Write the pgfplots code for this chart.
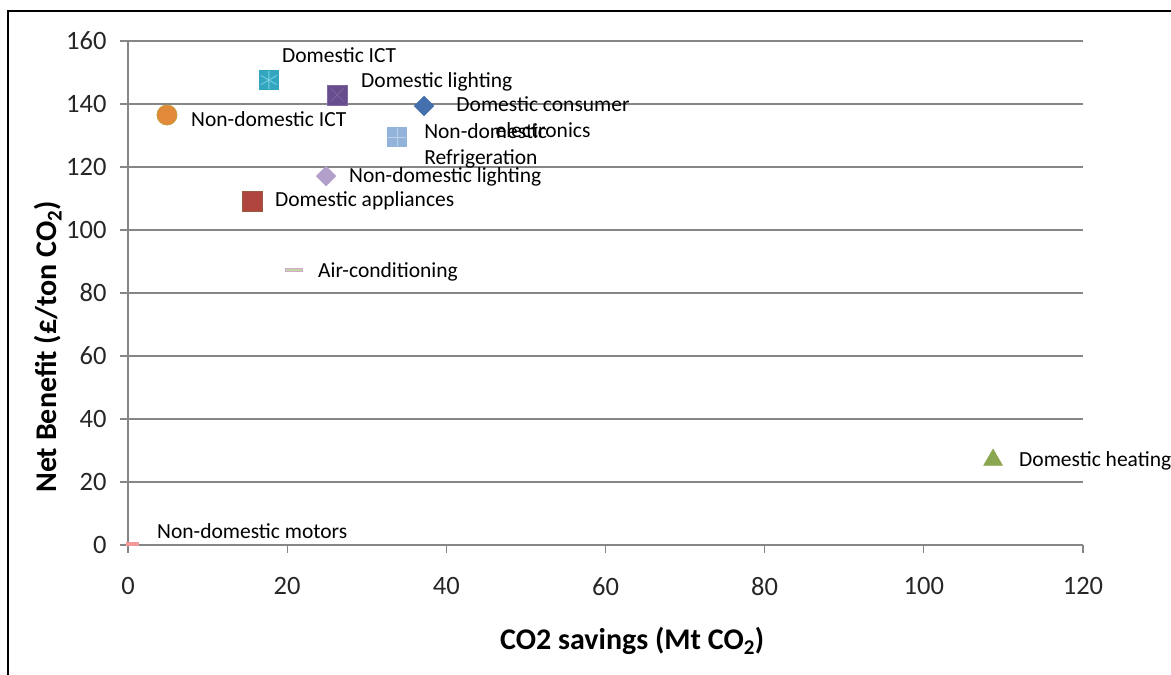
\documentclass[border=0pt]{standalone}
\usepackage{fontspec}
\setmainfont{Carlito}
\usepackage{pgfplots}
\pgfplotsset{compat=1.18}
\definecolor{gridgray}{HTML}{868686}
\definecolor{cTeal}{HTML}{33A6BF}
\definecolor{cTealL}{HTML}{7AD3E3}
\definecolor{cPurple}{HTML}{684D8C}
\definecolor{cPurpleL}{HTML}{8269A5}
\definecolor{cBlue}{HTML}{4470AE}
\definecolor{cOrange}{HTML}{E28A39}
\definecolor{cOrangeB}{HTML}{C49A3A}
\definecolor{cLBlue}{HTML}{94B3DA}
\definecolor{cLBlueL}{HTML}{BDD0EA}
\definecolor{cLav}{HTML}{B29FCA}
\definecolor{cRed}{HTML}{B0443F}
\definecolor{cRedB}{HTML}{9A5A3F}
\definecolor{cGreenL}{HTML}{C3D69B}
\definecolor{cPinkB}{HTML}{D0A8D0}
\definecolor{cOlive}{HTML}{8BA650}
\definecolor{cPink}{HTML}{F49A9A}
\newcommand{\lbl}{\fontsize{21.5}{26}\selectfont}
\begin{document}
\begin{tikzpicture}[x=1pt,y=1pt]
\useasboundingbox (0,0) rectangle (1171,675);
\draw[line width=2pt] (8,-5) -- (8,664) -- (1180,664);
\begin{axis}[
  at={(128pt,130pt)}, anchor=south west,
  width=955pt, height=504pt, scale only axis,
  xmin=0, xmax=120, ymin=0, ymax=160,
  xtick={0,20,...,120}, ytick={0,20,...,160},
  axis x line*=bottom, axis y line*=left,
  axis line style={-, gridgray, line width=1.3pt},
  ymajorgrids, grid style={gridgray, line width=1.3pt},
  tick align=outside, major tick length=8pt,
  tick style={gridgray, line width=1.3pt},
  ticklabel style={font=\fontsize{26.5}{30}\selectfont, text=black!85},
  xticklabel style={yshift=-21pt},
  yticklabel style={xshift=-10pt},
  /pgf/number format/assume math mode=true,
  xlabel={CO2 savings (Mt CO\textsubscript{2})},
  ylabel={Net Benefit (£/ton CO\textsubscript{2})},
  label style={font=\bfseries\fontsize{30}{36}\selectfont},
  xlabel style={at={(axis description cs:0.528,-0.19)}, anchor=center},
  ylabel style={at={(axis description cs:-0.084,0.393)}, anchor=center},
  clip=false,
]
% Domestic ICT
\addplot[only marks, mark=square*, mark size=9.5pt, mark options={fill=cTeal, draw=cTeal}] coordinates {(17.7,147.6)};
\addplot[only marks, mark=asterisk, mark size=9pt, mark options={draw=cTealL, line width=0.8pt}] coordinates {(17.7,147.6)};
% Domestic lighting
\addplot[only marks, mark=square*, mark size=10pt, mark options={fill=cPurple, draw=cPurpleL}] coordinates {(26.3,142.9)};
\addplot[only marks, mark=x, mark size=9pt, mark options={draw=cPurpleL, line width=0.6pt}] coordinates {(26.3,142.9)};
% Domestic consumer electronics
\addplot[only marks, mark=square*, mark size=7pt, mark options={rotate=45, fill=cBlue, draw=cBlue}] coordinates {(37.2,139.4)};
% Non-domestic ICT
\addplot[only marks, mark=*, mark size=10pt, mark options={fill=cOrange, draw=cOrangeB, line width=0.8pt}] coordinates {(4.9,136.5)};
% Non-domestic refrigeration
\addplot[only marks, mark=square*, mark size=9.5pt, mark options={fill=cLBlue, draw=cLBlue}] coordinates {(33.8,129.5)};
\addplot[only marks, mark=+, mark size=9pt, mark options={draw=cLBlueL, line width=0.8pt}] coordinates {(33.8,129.5)};
% Non-domestic lighting
\addplot[only marks, mark=square*, mark size=7pt, mark options={rotate=45, fill=cLav, draw=cLav}] coordinates {(24.9,117.1)};
% Domestic appliances
\addplot[only marks, mark=square*, mark size=10pt, mark options={fill=cRed, draw=cRedB, line width=0.8pt}] coordinates {(15.6,109.2)};
% Air-conditioning
\addplot[only marks, mark=-, mark size=9pt, mark options={draw=cPinkB, line width=4.5pt}] coordinates {(20.9,87.3)};
\addplot[only marks, mark=-, mark size=8pt, mark options={draw=cGreenL, line width=2.5pt}] coordinates {(20.9,87.3)};
% Domestic heating
\addplot[only marks, mark=triangle*, mark size=11pt, mark options={fill=cOlive, draw=cOlive}] coordinates {(108.7,27.0)};
% Non-domestic motors
\addplot[only marks, mark=-, mark size=6.5pt, mark options={draw=cPink, line width=4pt}] coordinates {(0.6,0.3)};

\node[anchor=west, inner sep=0pt, font=\lbl] at (axis cs:19.35,155.6) {Domestic ICT};
\node[anchor=west, inner sep=0pt, font=\lbl] at (axis cs:29.28,147.0) {Domestic lighting};
\node[anchor=center, align=center, inner sep=0pt, font=\lbl] at (axis cs:52.15,135.9) {Domestic consumer\\electronics};
\node[anchor=west, inner sep=0pt, font=\lbl] at (axis cs:7.92,135.2) {Non-domestic ICT};
\node[anchor=west, align=left, inner sep=0pt, font=\lbl] at (axis cs:37.2,126.8) {Non-domestic\\Refrigeration};
\node[anchor=west, inner sep=0pt, font=\lbl] at (axis cs:27.77,116.8) {Non-domestic lighting};
\node[anchor=west, inner sep=0pt, font=\lbl] at (axis cs:18.47,109.2) {Domestic appliances};
\node[anchor=west, inner sep=0pt, font=\lbl] at (axis cs:23.88,86.7) {Air-conditioning};
\node[anchor=west, inner sep=0pt, font=\lbl] at (axis cs:111.96,26.7) {Domestic heating};
\node[anchor=west, inner sep=0pt, font=\lbl] at (axis cs:3.64,4.44) {Non-domestic motors};
\end{axis}
\end{tikzpicture}
\end{document}
